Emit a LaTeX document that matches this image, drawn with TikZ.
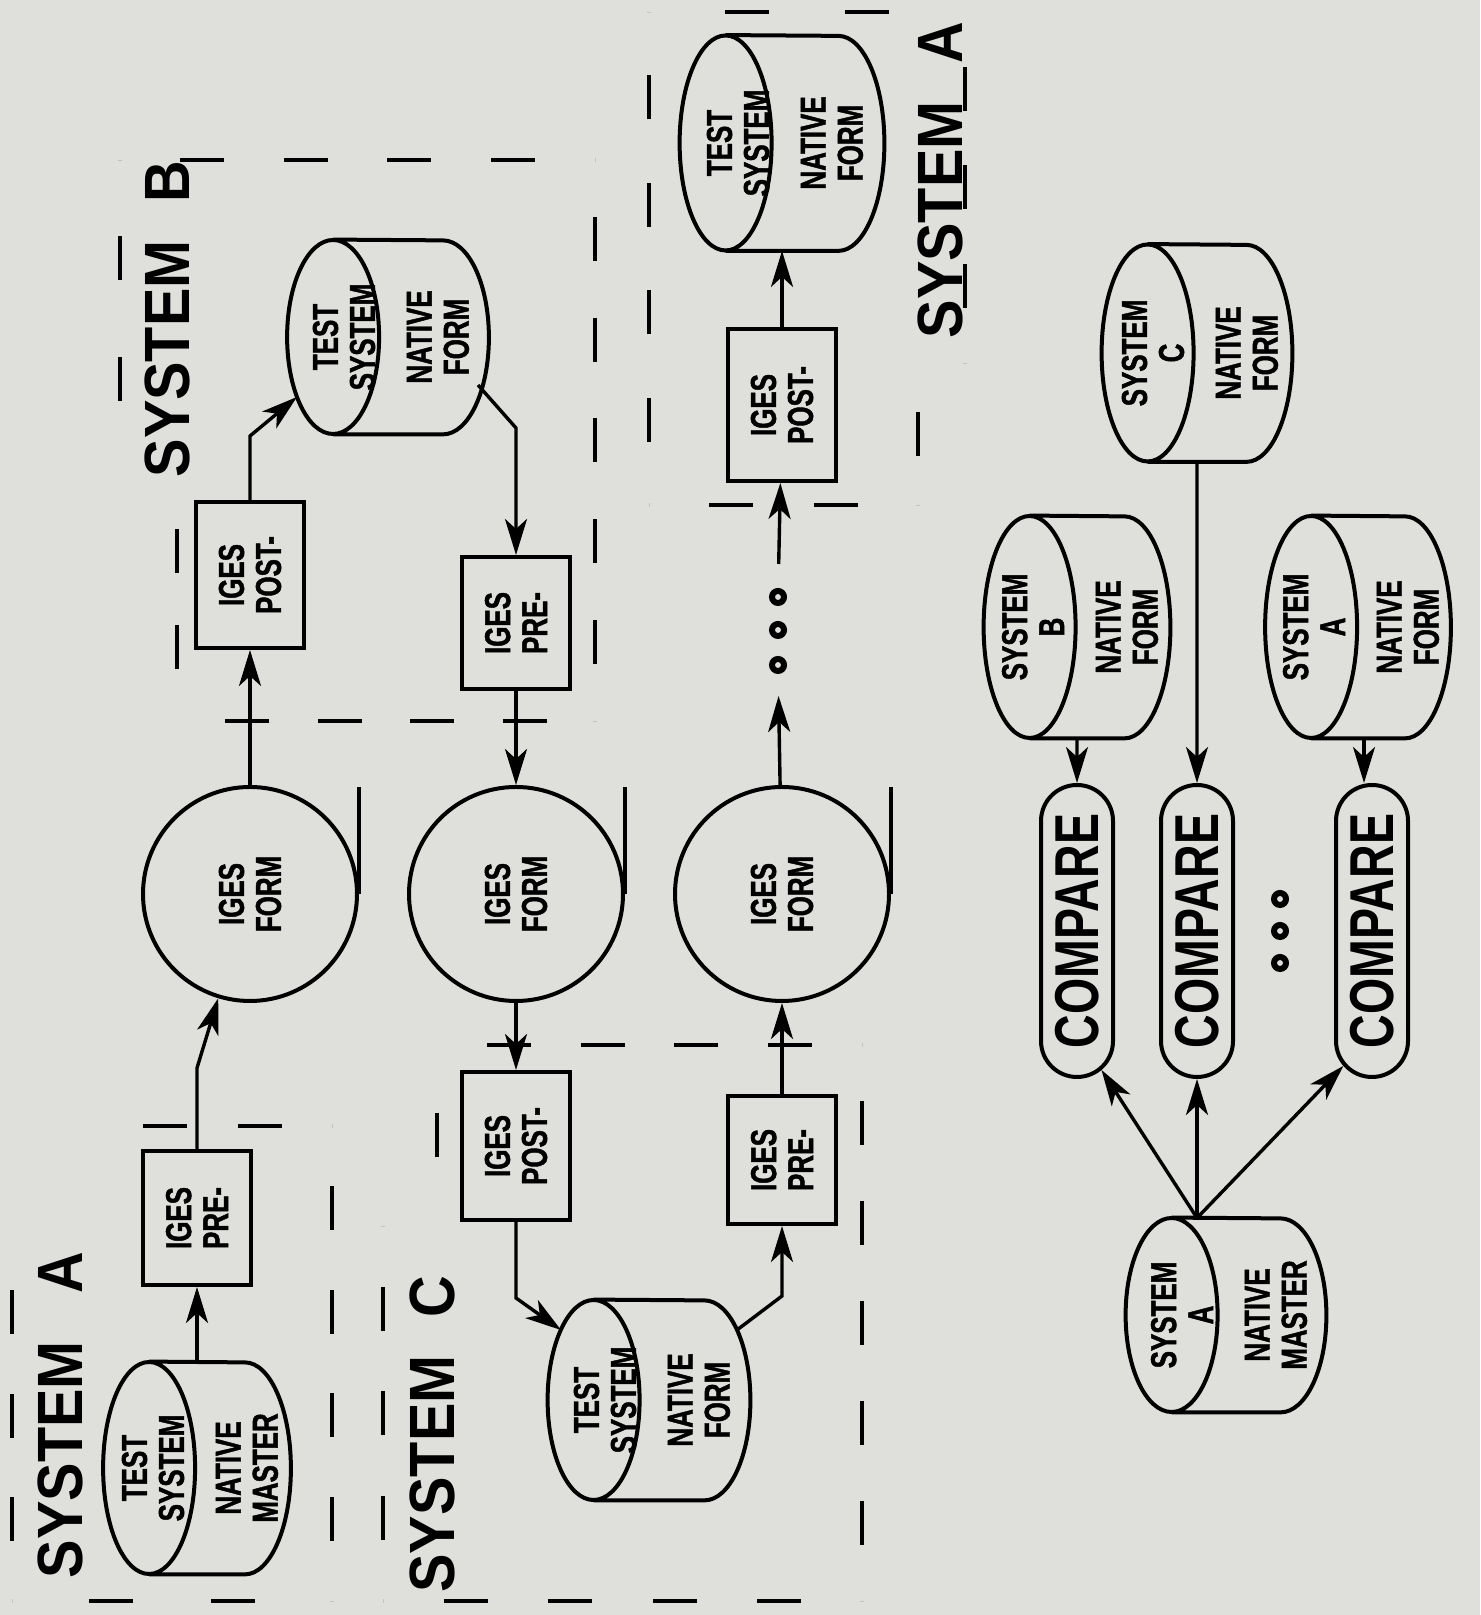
\documentclass[tikz,border=0pt]{standalone}
\usepackage{fontspec}
\setmainfont{Liberation Sans}
\newfontfamily\lblfont{Liberation Sans Bold}[FakeStretch=0.9]
\newfontfamily\tagfont{Liberation Sans Bold}[FakeStretch=0.72, FakeBold=1.2]
\newfontfamily\cmpfont{Liberation Sans Bold}[FakeStretch=0.75]
\usetikzlibrary{shapes.geometric, shapes.misc, arrows.meta, calc, decorations}
\definecolor{paper}{RGB}{223,223,219}
\begin{document}
\begin{tikzpicture}[x=0.5pt, y=-0.5pt, rotate=90, transform shape,
    >={Stealth[length=18pt, width=11pt, inset=5pt]},
    every node/.style={inner sep=0pt, align=center},
    txt/.style={font=\tagfont\fontsize{18}{18.5}\selectfont},
    drum/.style={rectangle},
    procbox/.style={rectangle, draw, line width=2pt, minimum height=54pt, txt},
    iges/.style={circle, draw, line width=2pt, minimum size=107pt, txt},
    cmpbox/.style={rounded rectangle, draw, line width=2pt, minimum width=146pt, minimum height=36pt, font=\cmpfont\fontsize{31}{33}\selectfont},
    dotmark/.style={circle, draw, line width=3pt, minimum size=6pt},
    sysframe/.style={line width=2pt, dash pattern=on 22pt off 24pt, dash expand off},
    syslbl/.style={font=\lblfont\fontsize{32}{34}\selectfont},
    flow/.style={->, line width=1.7pt}]
    \fill[paper] (0,0) rectangle (1615,1480);
    \useasboundingbox (0,0) rectangle (1615,1480);
    \foreach \xa/\ya/\xb/\yb in {14/12/384/12, 384/12/384/93, 384/93/489/93, 489/93/489/332, 489/332/14/332, 14/332/14/12,
        1138/120/1455/120, 1455/120/1455/595, 1455/595/894/595, 894/595/894/177, 894/177/1138/177, 1138/177/1138/120,
        14/383/389/383, 389/383/389/437, 389/437/570/437, 570/437/570/862, 570/862/14/862, 14/862/14/383,
        1110/649/1603/649, 1603/649/1603/965, 1603/965/1252/965, 1252/965/1252/918, 1252/918/1110/918, 1110/918/1110/649}
        \draw[sysframe] (\xa,\ya) -- (\xb,\yb);
    \node[syslbl] (lblA1) at (200,60) {SYSTEM\hspace{0.75em}A};
    \node[syslbl] (lblB) at (1296,167) {SYSTEM\hspace{0.6em}B};
    \node[syslbl] (lblC) at (181,432) {SYSTEM\hspace{0.6em}C};
    \node[syslbl] (lblA2) at (1435,940) {SYSTEM\hspace{0.6em}A};
    \node[drum, minimum width=106pt, minimum height=93.5pt] (m1) at (147,197) {};
    \node[txt] (m1f) at (147,153) {TEST\\SYSTEM};
    \node[txt] (m1b) at (147,247) {NATIVE\\MASTER};
    \node[procbox, minimum width=67pt] (pre1) at (397,197) {IGES\\PRE-};
    \node[iges] (iges1) at (721,250) {IGES\\FORM};
    \node[procbox, minimum width=73pt] (post1) at (1040,250) {IGES\\POST-};
    \node[drum, minimum width=97pt, minimum height=100.5pt] (cylB) at (1278,388) {};
    \node[txt] (cylBf) at (1278,344) {TEST\\SYSTEM};
    \node[txt] (cylBb) at (1278,438) {NATIVE\\FORM};
    \node[procbox, minimum width=66pt] (pre2) at (992,516) {IGES\\PRE-};
    \node[iges] (iges2) at (721,516) {IGES\\FORM};
    \node[procbox, minimum width=74pt] (post2) at (469,516) {IGES\\POST-};
    \node[drum, minimum width=100pt, minimum height=101pt] (cylC) at (215,649) {};
    \node[txt] (cylCf) at (215,605) {TEST\\SYSTEM};
    \node[txt] (cylCb) at (215,699) {NATIVE\\FORM};
    \node[procbox, minimum width=64pt] (pre3) at (455,782) {IGES\\PRE-};
    \node[iges] (iges3) at (721,782) {IGES\\FORM};
    \node[dotmark] (dt1) at (950,778) {};
    \node[dotmark] (dt2) at (985,778) {};
    \node[dotmark] (dt3) at (1018,778) {};
    \node[procbox, minimum width=76pt] (post3) at (1210,782) {IGES\\POST-};
    \node[drum, minimum width=107.5pt, minimum height=102pt] (cylA2) at (1472,782) {};
    \node[txt] (cylA2f) at (1472,738) {TEST\\SYSTEM};
    \node[txt] (cylA2b) at (1472,832) {NATIVE\\FORM};
    \node[drum, minimum width=111pt, minimum height=93pt] (cB2) at (988,1077) {};
    \node[txt] (cB2f) at (988,1033) {SYSTEM\\B};
    \node[txt] (cB2b) at (988,1127) {NATIVE\\FORM};
    \node[drum, minimum width=108.5pt, minimum height=95pt] (cC2) at (1262,1197) {};
    \node[txt] (cC2f) at (1262,1153) {SYSTEM\\C};
    \node[txt] (cC2b) at (1262,1247) {NATIVE\\FORM};
    \node[drum, minimum width=111pt, minimum height=92.5pt] (cA2b) at (988,1358) {};
    \node[txt] (cA2bf) at (988,1314) {SYSTEM\\A};
    \node[txt] (cA2bb) at (988,1408) {NATIVE\\FORM};
    \node[drum, minimum width=97pt, minimum height=100pt] (mst) at (300,1226) {};
    \node[txt] (mstf) at (300,1182) {SYSTEM\\A};
    \node[txt] (mstb) at (300,1276) {NATIVE\\MASTER};
    \foreach \n/\r in {m1/106, cylB/97, cylC/100, cylA2/107.5, cB2/111, cC2/108.5, cA2b/111, mst/97}
        \draw[line width=2pt] ($(\n.north west)+(0,46)$) -- ($(\n.south west)+(0,-46)$)
            arc[start angle=180, end angle=0, x radius=\r, y radius=46] -- ($(\n.north east)+(0,46)$)
            ($(\n.north)+(0,46)$) ellipse [x radius=\r, y radius=46];
    \node[cmpbox] (cmp1) at (684,1077) {COMPARE};
    \node[cmpbox] (cmp2) at (684,1197) {COMPARE};
    \node[cmpbox] (cmp3) at (684,1372) {COMPARE};
    \node[dotmark] (cd1) at (652,1280) {};
    \node[dotmark] (cd2) at (684,1280) {};
    \node[dotmark] (cd3) at (716,1280) {};
    \draw[flow] (m1) -- (pre1);
    \draw[flow] (pre1.east) -- ++(81,0) -- (iges1);
    \draw[flow] (iges1) -- (post1);
    \draw[flow] (post1.east) -- ++(64,0) -- ($(cylB.center)+(-60,-91)$);
    \draw[flow] ($(cylB.center)+(-48,90)$) -- ++(-43,38) -- (pre2.east);
    \draw[flow] (pre2) -- (iges2);
    \draw[flow] (iges2) -- (post2);
    \draw[flow] (post2.west) -- ++(-76,0) -- ($(cylC.center)+(70,-88)$);
    \draw[flow] ($(cylC.center)+(70,88)$) -- ++(34,45) -- (pre3.west);
    \draw[flow] (pre3) -- (iges3);
    \draw[flow, shorten >=11pt] (iges3) -- (dt1);
    \draw[flow, shorten <=12pt] (dt3) -- (post3);
    \draw[flow] (post3) -- (cylA2);
    \foreach \n in {iges1, iges2, iges3}
        \draw[line width=2pt] (\n.south) -- ++(107,0);
    \coordinate (fan) at ($(mst.center)+(97,-29)$);
    \draw[flow] (cB2) -- (cmp1);
    \draw[flow] (cC2) -- (cmp2);
    \draw[flow] ($(cA2b.west)+(0,6)$) -- ($(cA2b.west -| cmp3.east)+(0,6)$);
    \draw[flow] (fan) -- (cmp1.190);
    \draw[flow] (fan) -- (cmp2);
    \draw[flow] (fan) -- (cmp3.168);
\end{tikzpicture}
\end{document}
